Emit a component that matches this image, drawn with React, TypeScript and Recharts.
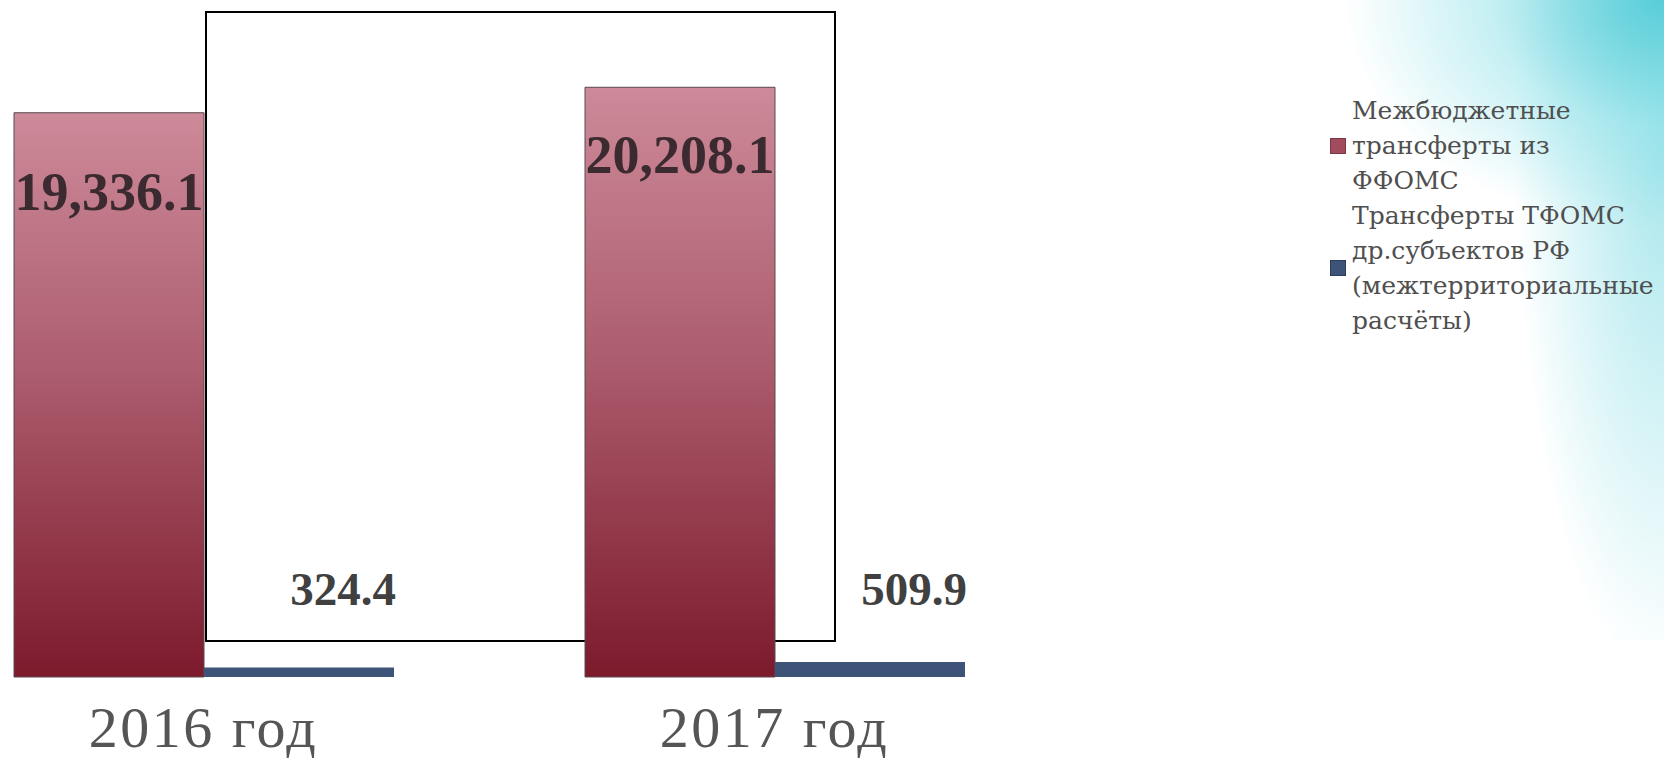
import { BarChart, Bar, XAxis, YAxis, LabelList } from 'recharts'

const years = ['2016 год', '2017 год']
const ffomsValues = [19336.1, 20208.1]
const tfomsValues = [324.4, 509.9]
const seriesNames = [
  'Межбюджетные\nтрансферты из\nФФОМС',
  'Трансферты ТФОМС\nдр.субъектов РФ\n(межтерриториальные\nрасчёты)',
]
const seriesColors = ['#a24a5e', '#3d5378']

const data = years.map((year, i) => ({ year, ffoms: ffomsValues[i], tfoms: tfomsValues[i] }))

const fmt = (v: number) =>
  v.toLocaleString('en-US', { minimumFractionDigits: 1, maximumFractionDigits: 1 })

// how far below the bar top each red value sits (they are not aligned in the original)
const redLabelDrop = [97, 86]

function YearTick({ x, y, payload }: any) {
  return (
    <text x={x} y={y} dy={70} textAnchor="middle" fontSize={58} letterSpacing={2.5}
      fontFamily="'Liberation Serif', serif" fill="#555">
      {payload.value}
    </text>
  )
}

function RedLabel(props: any) {
  const vb = props.viewBox ?? props
  const i = props.index ?? 0
  return (
    <text x={vb.x + vb.width / 2} y={vb.y + redLabelDrop[i]} textAnchor="middle" fontSize={54}
      fontWeight="bold" fontFamily="'Liberation Serif', serif" fill="#3b2b30">
      {fmt(props.value)}
    </text>
  )
}

function BlueLabel(props: any) {
  const vb = props.viewBox ?? props
  return (
    <text x={vb.x + vb.width / 2 + 44} y={vb.y + vb.height - 72} textAnchor="middle" fontSize={47}
      fontWeight="bold" fontFamily="'Liberation Serif', serif" fill="#404040">
      {fmt(props.value)}
    </text>
  )
}

export default function App() {
  return (
    <div style={{ position: 'absolute', left: 0, top: 0, width: 1664, height: 760, overflow: 'hidden', background: '#fff' }}>
      {/* cyan slide decoration, top right */}
      <div
        style={{
          position: 'absolute', right: 0, top: 0, width: 380, height: 640,
          background:
            'radial-gradient(ellipse 320px 230px at 100% 0%, rgba(70,200,212,0.85), rgba(130,222,230,0.45) 55%, rgba(255,255,255,0) 100%),' +
            'radial-gradient(ellipse 150px 540px at 100% 22%, rgba(110,214,224,0.6), rgba(255,255,255,0) 100%)',
        }}
      />
      {/* empty frame left over from the slide */}
      <div style={{ position: 'absolute', left: 205, top: 11, width: 631, height: 631, border: '2px solid #000', boxSizing: 'border-box' }} />

      <div style={{ position: 'absolute', left: -82, top: 0 }}>
        <BarChart width={1746} height={760} data={data} barGap={0}
          margin={{ top: 35, right: 604, bottom: 0, left: 0 }}>
          <defs>
            <linearGradient id="redGrad" x1="0" y1="0" x2="0" y2="1">
              <stop offset="0%" stopColor="#cd8a99" />
              <stop offset="45%" stopColor="#ad5e6f" />
              <stop offset="100%" stopColor="#7c1a2c" />
            </linearGradient>
          </defs>
          <XAxis dataKey="year" axisLine={false} tickLine={false} tickSize={0} tickMargin={0}
            height={83} tick={<YearTick />} interval={0} />
          <YAxis hide domain={[0, 22000]} />
          <Bar dataKey="ffoms" name={seriesNames[0]} barSize={190} fill="url(#redGrad)"
            stroke="#5b4a4f" strokeWidth={1} isAnimationActive={false}>
            <LabelList dataKey="ffoms" content={<RedLabel />} />
          </Bar>
          <Bar dataKey="tfoms" name={seriesNames[1]} barSize={190} fill={seriesColors[1]}
            isAnimationActive={false}>
            <LabelList dataKey="tfoms" content={<BlueLabel />} />
          </Bar>
        </BarChart>
      </div>

      <div style={{ position: 'absolute', left: 1330, top: 93, fontFamily: "'DejaVu Serif', serif", fontSize: 25, lineHeight: '35px', color: '#4f4f4f' }}>
        {seriesNames.map((name, i) => (
          <div key={name} style={{ display: 'flex', alignItems: 'center' }}>
            <div style={{ width: 16, height: 16, background: seriesColors[i], border: '1px solid rgba(0,0,0,0.25)', boxSizing: 'border-box', marginRight: 6, flexShrink: 0 }} />
            <div style={{ whiteSpace: 'pre' }}>{name}</div>
          </div>
        ))}
      </div>
    </div>
  )
}
